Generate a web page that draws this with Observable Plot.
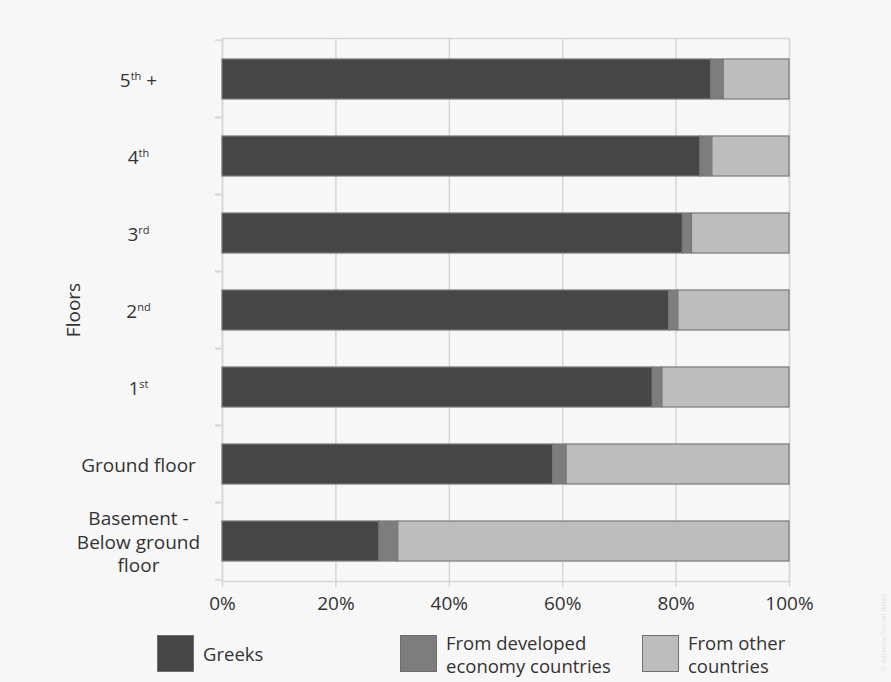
<!DOCTYPE html>
<html><head><meta charset="utf-8">
<script src="https://cdn.jsdelivr.net/npm/d3@7"></script>
<script src="https://cdn.jsdelivr.net/npm/@observablehq/plot@0.6"></script>
<style>
body{margin:0;background:#f7f7f7;font-family:"Open Sans",sans-serif;color:#333;}
#wrap{position:relative;width:891px;height:682px;overflow:hidden;background:#f7f7f7;}
#chart{position:absolute;left:0;top:0;}
.lg{position:absolute;display:flex;align-items:center;}
.sw{width:37px;height:37px;box-sizing:border-box;border:1px solid #6f6f6f;flex:none;}
.lt{font-size:18.5px;line-height:23px;margin-left:9px;color:#333;white-space:pre;}
#wm{position:absolute;left:878px;top:672px;transform-origin:0 0;transform:rotate(-90deg);font-size:8px;line-height:10px;color:#e2e2e2;white-space:nowrap;}
</style></head><body>
<div id="wrap"><div id="chart"></div><div id="wm">© Athens Social Atlas</div></div>
<script>
const floors = ["5th +","4th","3rd","2nd","1st","Ground floor","Basement -\nBelow ground\nfloor"];
const greeks    = [86.2, 84.3, 81.2, 78.8, 75.9, 58.3, 27.7];
const developed = [2.2, 2.1, 1.6, 1.6, 1.7, 2.4, 3.3];
const others    = [11.6, 13.6, 17.2, 19.6, 22.4, 39.3, 69.0];
const seriesNames = ["Greeks","From developed economy countries","From other countries"];
const legendLabels = ["Greeks","From developed\neconomy countries","From other\ncountries"];
const seriesColors = ["#464646","#7d7d7d","#bdbdbd"];
const xTicks = [0,20,40,60,80,100];

const rows = [];
floors.forEach((f,i)=>{
  rows.push({floor:f, group:seriesNames[0], value:greeks[i]});
  rows.push({floor:f, group:seriesNames[1], value:developed[i]});
  rows.push({floor:f, group:seriesNames[2], value:others[i]});
});

const W=891, H=620, mt=38, mb=39, ml=222, mr=102;
const step = (H-mt-mb)/floors.length;
const grid = "#d6d6d6";

const chart = Plot.plot({
  width:W, height:H, marginTop:mt, marginBottom:mb, marginLeft:ml, marginRight:mr,
  style:{background:"transparent", fontFamily:"Open Sans", fontSize:"19px", color:"#333"},
  x:{domain:[0,100]},
  y:{domain:floors, padding:0},
  color:{domain:seriesNames, range:seriesColors},
  marks:[
    Plot.ruleX(xTicks,{stroke:grid, strokeWidth:1.5, insetBottom:-6}),
    Plot.frame({stroke:grid, strokeWidth:1.5}),
    Plot.axisY({tickSize:7, tickFormat:()=>"", stroke:grid, strokeWidth:1.5, dy: step/2, label:null}),
    Plot.axisY({tickSize:7, tickFormat:()=>"", stroke:grid, strokeWidth:1.5, dy: -step/2, label:null}),
    Plot.barX(rows, Plot.stackX({x:"value", y:"floor", fill:"group", order:seriesNames,
      insetTop:19, insetBottom:18, stroke:"#787878", strokeWidth:1.2})),
    Plot.axisY({tickSize:0, tickPadding:84, textAnchor:"middle", fontSize:19, lineHeight:1.25, fill:"#333", label:null}),
    Plot.axisX({ticks:xTicks, tickSize:0, tickPadding:15, tickFormat:d=>d+"%", fontSize:19, fill:"#333", label:null}),
    Plot.text(["Floors"],{frameAnchor:"left", textAnchor:"middle", dx:-149, rotate:-90, fontSize:19, fill:"#333"})
  ]
});

// superscript ordinals
const ns = "http://www.w3.org/2000/svg";
chart.querySelectorAll('g[aria-label="y-axis tick label"] text').forEach(t=>{
  const m = t.textContent.match(/^(\d)(st|nd|rd|th)(.*)$/);
  if(!m) return;
  t.textContent = "";
  const a = document.createElementNS(ns,"tspan"); a.textContent = m[1];
  const b = document.createElementNS(ns,"tspan"); b.textContent = m[2];
  b.setAttribute("font-size","11px"); b.setAttribute("dy","-7");
  t.appendChild(a); t.appendChild(b);
  if(m[3]){
    const c = document.createElementNS(ns,"tspan"); c.textContent = m[3];
    c.setAttribute("dy","7"); t.appendChild(c);
  }
});
document.getElementById("chart").appendChild(chart);

// legend
const lgLeft = [157, 400, 642];
const wrap = document.getElementById("wrap");
seriesNames.forEach((s,i)=>{
  const d = document.createElement("div");
  d.className = "lg";
  d.style.left = lgLeft[i]+"px";
  d.style.top = "635px";
  d.style.height = "37px";
  const sw = document.createElement("div");
  sw.className = "sw"; sw.style.background = seriesColors[i];
  const lt = document.createElement("div");
  lt.className = "lt"; lt.textContent = legendLabels[i];
  d.appendChild(sw); d.appendChild(lt);
  wrap.appendChild(d);
});
</script>
</body></html>
